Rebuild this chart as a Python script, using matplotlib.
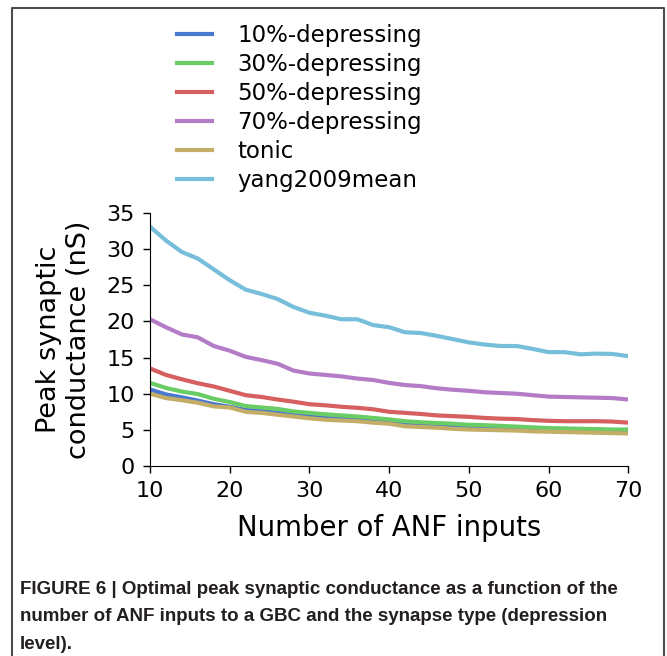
import matplotlib
matplotlib.use('Agg')
import matplotlib.pyplot as plt
from matplotlib.lines import Line2D
import numpy as np

n_inputs = list(range(10, 71, 2))

dep10 = [10.6, 9.9, 9.5, 9.05, 8.55, 8.2, 7.75, 7.6, 7.35, 7.05, 6.85, 6.65, 6.5, 6.4, 6.2, 6.05,
         5.8, 5.7, 5.6, 5.55, 5.45, 5.35, 5.3, 5.2, 5.15, 5.1, 5.05, 5.0, 5.0, 4.95, 4.95]
dep30 = [11.5, 10.8, 10.3, 9.95, 9.3, 8.85, 8.3, 8.1, 7.9, 7.55, 7.35, 7.15, 7.0, 6.85, 6.65, 6.45,
         6.2, 6.05, 5.95, 5.85, 5.7, 5.65, 5.55, 5.45, 5.35, 5.25, 5.2, 5.15, 5.1, 5.05, 5.05]
dep50 = [13.5, 12.6, 12.0, 11.45, 11.0, 10.4, 9.8, 9.55, 9.2, 8.9, 8.55, 8.4, 8.2, 8.05, 7.85, 7.5,
         7.35, 7.2, 7.0, 6.9, 6.8, 6.65, 6.55, 6.5, 6.35, 6.25, 6.2, 6.2, 6.2, 6.15, 6.0]
dep70 = [20.3, 19.2, 18.2, 17.8, 16.6, 15.95, 15.1, 14.65, 14.15, 13.2, 12.8, 12.6, 12.4, 12.1, 11.9, 11.5,
         11.2, 11.05, 10.75, 10.55, 10.4, 10.2, 10.1, 10.0, 9.8, 9.6, 9.55, 9.5, 9.45, 9.4, 9.2]
tonic = [10.0, 9.4, 9.1, 8.75, 8.25, 8.1, 7.5, 7.35, 7.1, 6.85, 6.6, 6.4, 6.3, 6.2, 6.0, 5.85,
         5.5, 5.4, 5.3, 5.15, 5.05, 5.0, 4.95, 4.9, 4.8, 4.75, 4.7, 4.65, 4.6, 4.55, 4.5]
yang2009 = [33.1, 31.2, 29.6, 28.7, 27.2, 25.7, 24.4, 23.8, 23.1, 22.0, 21.2, 20.8, 20.3, 20.3, 19.5, 19.2,
            18.5, 18.4, 18.0, 17.55, 17.1, 16.8, 16.6, 16.6, 16.2, 15.75, 15.75, 15.45, 15.55, 15.5, 15.2]

labels = ['10%-depressing', '30%-depressing', '50%-depressing', '70%-depressing', 'tonic', 'yang2009mean']
colors = ['#4878CF', '#6ACC65', '#D65F5F', '#B47CC7', '#C4AD66', '#77BEDB']

caption = ('FIGURE 6 | Optimal peak synaptic conductance as a function of the\n'
           'number of ANF inputs to a GBC and the synapse type (depression\n'
           'level).')

fig = plt.figure(figsize=(6.67, 6.56), dpi=100)
ax = fig.add_axes([0.2249, 0.2896, 0.7171, 0.3857])

series = [dep10, dep30, dep50, dep70, tonic, yang2009]
for vals, lab, col in zip(series, labels, colors):
    ax.plot(n_inputs, vals, color=col, lw=3, label=lab, solid_joinstyle='round')

ax.set_xlim(10, 70)
ax.set_ylim(0, 35)
ax.set_xticks(np.arange(10, 71, 10))
ax.set_yticks(np.arange(0, 36, 5))
ax.spines['top'].set_visible(False)
ax.spines['right'].set_visible(False)
ax.tick_params(labelsize=16, length=5, width=1, direction='out', pad=6)
ax.set_xlabel('Number of ANF inputs', fontsize=19.8, labelpad=9)
ax.set_ylabel('Peak synaptic\nconductance (nS)', fontsize=19.5, labelpad=10)

ax.legend(loc='upper left', bbox_to_anchor=(177 / 667, 0.9634), bbox_transform=fig.transFigure,
          frameon=False, fontsize=16.5, handlelength=1.53, handletextpad=1.09,
          labelspacing=0.26, borderpad=0, borderaxespad=0)

fig.text(20 / 667, 1 - 581 / 656, caption, fontsize=13.5, fontweight='bold', va='top', ha='left',
         family=['Liberation Sans Narrow', 'Liberation Sans', 'DejaVu Sans'], linespacing=1.8,
         color='#231f20')

# frame around the figure panel
x0, x1, y1 = 12 / 667, 664 / 667, 1 - 8 / 656
fig.add_artist(Line2D([x0, x0, x1, x1], [0, y1, y1, 0], transform=fig.transFigure,
                      color='#4d4d4d', lw=1.5))

fig.savefig('out.png', dpi=100)
